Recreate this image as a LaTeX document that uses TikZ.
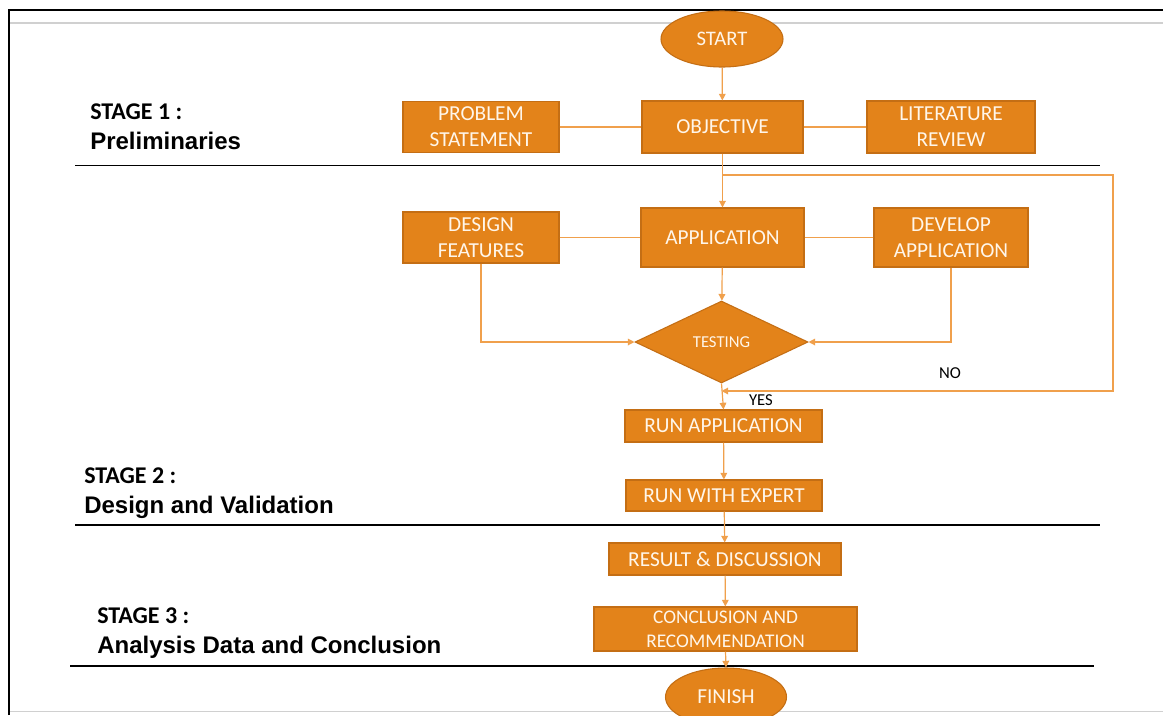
\documentclass[tikz,border=0pt]{standalone}
\usepackage{fontspec}
\newfontfamily\boxfont{Carlito}
\newfontfamily\headfont{Liberation Sans}
\usetikzlibrary{shapes.geometric,arrows.meta}
\definecolor{boxfill}{HTML}{E3831A}
\definecolor{boxline}{HTML}{C46E14}
\definecolor{flowline}{HTML}{F0A04C}
\definecolor{boxtext}{HTML}{FFF6EA}
\definecolor{framegray}{HTML}{D0D0D0}
\begin{document}
\begin{tikzpicture}[x=0.75pt,y=-0.75pt,
  sz/.style 2 args={minimum width=#1*0.75pt, minimum height=#2*0.75pt},
  box/.style={rectangle, draw=boxline, fill=boxfill, line width=0.8pt, inner sep=0pt,
    align=center, text=boxtext, font=\boxfont\fontsize{16}{19.5}\selectfont},
  terminal/.style={box, ellipse},
  decision/.style={box, diamond, font=\boxfont\fontsize{12.5}{14}\selectfont},
  flow/.style={draw=flowline, line width=0.9pt},
  arr/.style={flow, -{Triangle[length=5pt,width=5pt]}},
  sep/.style={draw=black, line width=1pt},
  stagehead/.style={anchor=base west, inner sep=0pt, font=\boxfont\bfseries\fontsize{18}{20}\selectfont},
  stagename/.style={anchor=base west, inner sep=0pt, font=\headfont\bfseries\fontsize{18}{20}\selectfont},
  note/.style={inner sep=0pt, font=\boxfont\fontsize{12.5}{14}\selectfont}]
% page and frame
\fill[white] (0,0) rectangle (1163,715);
\useasboundingbox (0,0) rectangle (1163,715);
\draw[framegray, line width=1pt] (9,23) -- (1163,23);
\draw[framegray, line width=1pt] (9,711.5) -- (1163,711.5);
\draw[black, line width=1.5pt] (9,715) -- (9,10) -- (1163,10);

% stage separators
\draw[sep] (75,165.5) -- (1100,165.5);
\draw[sep] (75,525) -- (1100,525);
\draw[sep] (70,666) -- (1094,666);

% stage labels
\node[stagehead] (s1a) at (90,119) {STAGE 1 :};
\node[stagename] (s1b) at (90,149) {Preliminaries};
\node[stagehead] (s2a) at (84,483) {STAGE 2 :};
\node[stagename] (s2b) at (84,513) {Design and Validation};
\node[stagehead] (s3a) at (97,623) {STAGE 3 :};
\node[stagename] (s3b) at (97,653) {Analysis Data and Conclusion};

% flowchart nodes
\node[terminal, sz={122}{56}, font=\boxfont\fontsize{15.5}{18}\selectfont] (start) at (722,39) {START};
\node[box, sz={161}{52}] (obj) at (722.5,127) {OBJECTIVE};
\node[box, sz={156}{51}] (prob) at (481,127) {PROBLEM\\STATEMENT};
\node[box, sz={168}{52}] (lit) at (951,127) {LITERATURE\\REVIEW};
\node[box, sz={163}{59}] (app) at (722.5,237.5) {APPLICATION};
\node[box, sz={156}{51}] (des) at (481,237.5) {DESIGN\\FEATURES};
\node[box, sz={154}{59}] (dev) at (951,237.5) {DEVELOP\\APPLICATION};
\node[decision, sz={173}{82}, aspect=2.1] (test) at (721.5,342) {TESTING};
\node[box, sz={197}{32}] (run) at (723.5,426) {RUN APPLICATION};
\node[box, sz={196}{31}] (exp) at (724,495.5) {RUN WITH EXPERT};
\node[box, sz={232}{32}] (res) at (725,559) {RESULT \& DISCUSSION};
\node[box, sz={263}{44}, font=\boxfont\fontsize{14.5}{18}\selectfont] (con) at (725.5,629) {CONCLUSION AND\\RECOMMENDATION};
\node[terminal, sz={121}{58}] (fin) at (726,697) {FINISH};

% side links
\draw[flow] (prob.east) -- (obj.west);
\draw[flow] (lit.west) -- (obj.east);
\draw[flow] (des.east) -- (app.west);
\draw[flow] (dev.west) -- (app.east);

% main flow
\draw[arr] (start) -- (obj);
\draw[arr] (obj) -- (app);
\draw[arr] (app) -- (test);
\draw[arr] (des.south) |- (test.west);
\draw[arr] (dev.south) |- (test.east);
\draw[arr] (test.south) -- (run.north);
\draw[arr] (run) -- (exp);
\draw[arr] (exp) -- (res);
\draw[arr] (res) -- (con);
\draw[arr] (con.south) -- (fin.north);

% retry loop
\coordinate (loopTop) at (1113,175);
\coordinate (loopBot) at (1113,391);
\draw[arr] (obj.south |- loopTop) -- (loopTop) -- (loopBot) -- (test.south |- loopBot);
\node[note] (no) at (950,373) {NO};
\node[note] (yes) at (761,400) {YES};
\end{tikzpicture}
\end{document}
